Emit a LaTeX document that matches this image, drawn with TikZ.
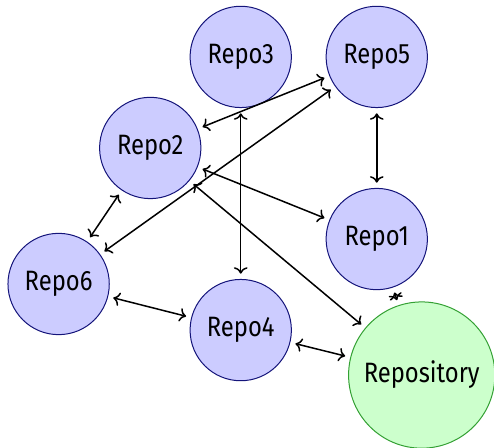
\documentclass[tikz,border=0pt]{standalone}
\usepackage{fontspec}
\setmainfont[FakeStretch=0.85]{Fira Sans}
\usetikzlibrary{arrows.meta, positioning}
\definecolor{CRepoFill}{HTML}{CCCCFF}
\definecolor{CRepoLine}{HTML}{14147A}
\definecolor{CMainFill}{HTML}{CCFFCC}
\definecolor{CMainLine}{HTML}{33A033}

\tikzset{
    repo/.style={circle, draw=CRepoLine, fill=CRepoFill, line width=0.5pt,
        minimum size=1.78cm, inner sep=0pt, font=\fontsize{14}{16}\selectfont},
    mainrepo/.style={repo, draw=CMainLine, fill=CMainFill, minimum size=2.57cm},
    sync/.style={<->, line width=0.75pt, shorten <=2.6pt, shorten >=2.6pt}
}

\begin{document}
\begin{tikzpicture}

    \useasboundingbox (0,0) rectangle (8.68,7.87);

    % --- Repositories ---
    \node[repo] (r3) at (4.23, 6.87) {Repo3};
    \node[repo] (r5) at (6.62, 6.87) {Repo5};
    \node[repo] (r2) at (2.64, 5.27) {Repo2};
    \node[repo] (r1) at (6.62, 3.67) {Repo1};
    \node[repo] (r6) at (1.03, 2.88) {Repo6};
    \node[repo] (r4) at (4.23, 2.07) {Repo4};
    \node[mainrepo] (main) at (7.41, 1.28) {Repository};

    % --- Links ---
    \draw[sync] (r2) -- (r5);
    \draw[sync] (r3) -- (r4);
    \draw[sync] (r5) -- (r1);
    \draw[sync] (r6) -- (r5);
    \draw[sync] (r2) -- (r1);
    \draw[sync] (r2) -- (main);
    \draw[sync] (r6) -- (r2);
    \draw[sync] (r6) -- (r4);
    \draw[sync] (r4) -- (main);
    \draw[sync] (r1) -- (main);

\end{tikzpicture}
\end{document}
